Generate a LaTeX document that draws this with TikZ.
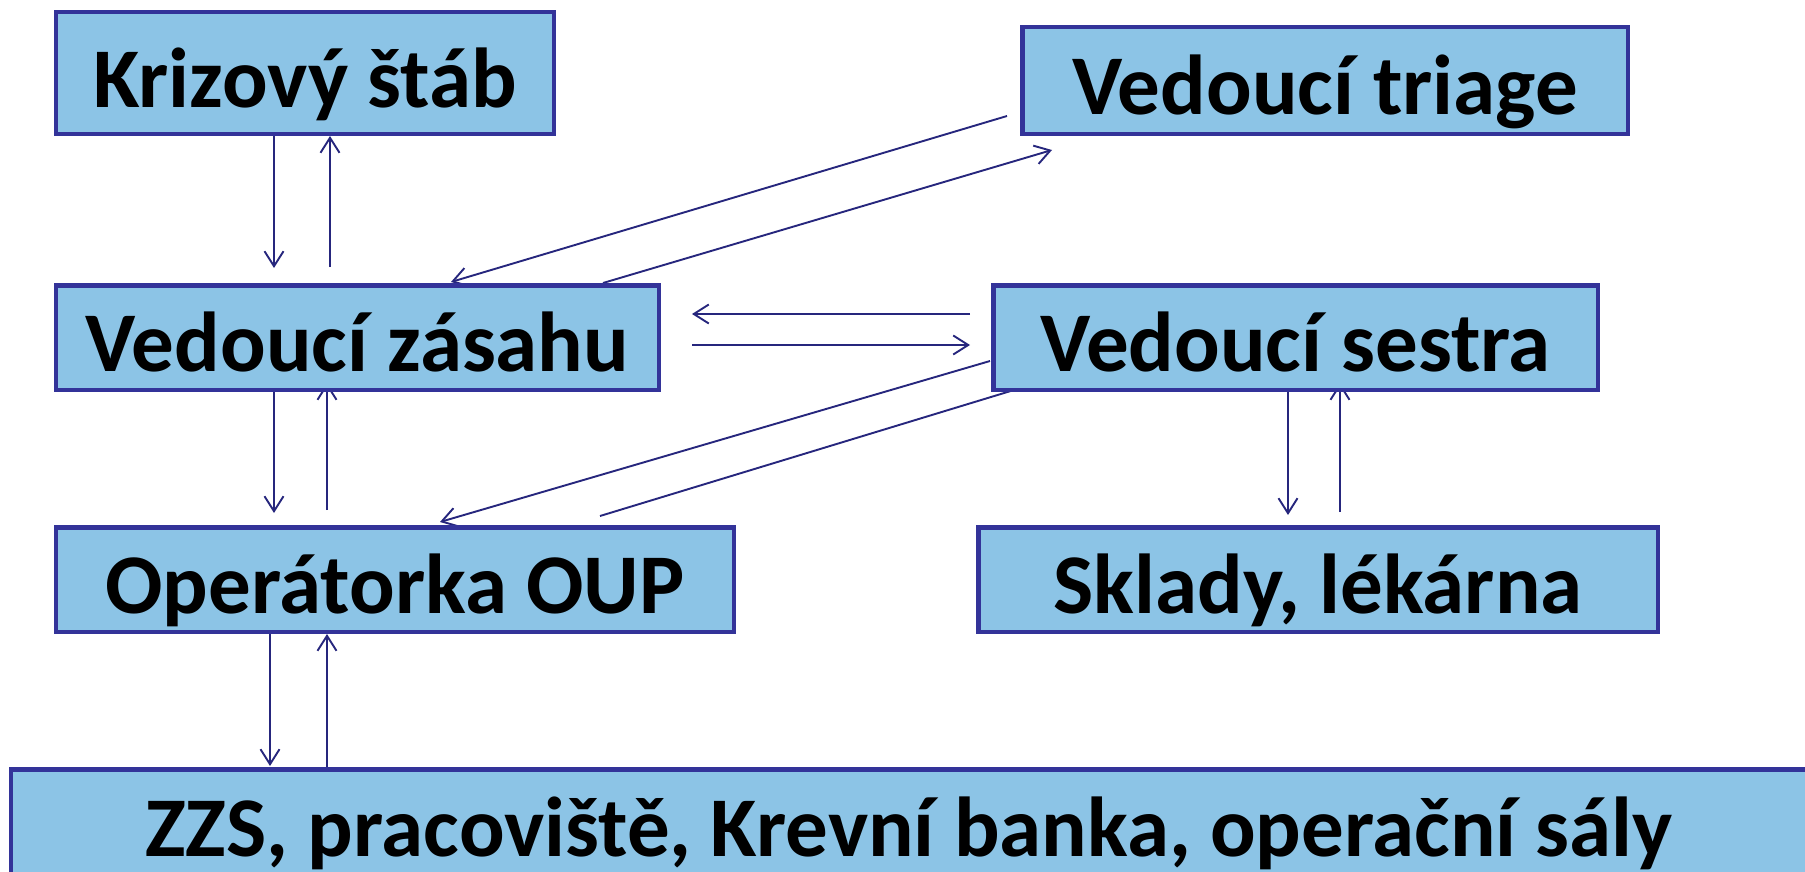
\documentclass[tikz,border=0pt]{standalone}
\usepackage{fontspec}
\setmainfont{Carlito}
\usetikzlibrary{arrows.meta}
\definecolor{boxfill}{RGB}{140,196,230}
\definecolor{boxline}{RGB}{51,51,153}
\definecolor{linkc}{RGB}{38,38,125}
\pgfdeclarelayer{links}
\pgfsetlayers{links,main}

\begin{document}
\begin{tikzpicture}[x=1bp,y=-1bp,
  box/.style={draw=boxline, line width=4.5bp, fill=boxfill, inner sep=0pt,
    text height=68bp, text depth=0pt,
    font=\fontsize{85bp}{100bp}\selectfont\bfseries},
  link/.style={draw=linkc, line width=1.9bp,
    -{Straight Barb[length=15bp,width=19bp,line width=1.9bp]}},
]
\useasboundingbox (0,0) rectangle (1805,872);
\clip (0,0) rectangle (1805,872);

% boxes
\node[box, minimum width=497.5bp, minimum height=121.5bp] (krize)  at (305,73)     {Krizový štáb};
\node[box, minimum width=605.5bp, minimum height=106.5bp] (triage) at (1325,80.5)  {Vedoucí triage};
\node[box, minimum width=602.5bp, minimum height=104.5bp] (zasah)  at (357.5,337.5) {Vedoucí zásahu};
\node[box, minimum width=604.5bp, minimum height=104.5bp] (sestra) at (1295.5,337.5) {Vedoucí sestra};
\node[box, minimum width=677.5bp, minimum height=104.5bp] (oup)    at (395,579.5)  {Operátorka OUP};
\node[box, minimum width=679.5bp, minimum height=104.5bp] (sklady) at (1318,579.5) {Sklady, lékárna};
\node[box, minimum width=1795.5bp, minimum height=105.5bp] (zzs)   at (909,822)    {ZZS, pracoviště, Krevní banka, operační sály};

% free ends of the connectors
\coordinate (kd) at (274,268);
\coordinate (ku) at (330,267);
\coordinate (zd) at (274,513);
\coordinate (zu) at (327,510);
\coordinate (od) at (270,766);
\coordinate (ou) at (327,766);
\coordinate (sd) at (1288,515);
\coordinate (su) at (1340,512);
\coordinate (hl1) at (970,314);
\coordinate (hl2) at (692,314);
\coordinate (hr1) at (692,345);
\coordinate (hr2) at (970,345);
\coordinate (tz1) at (1007,116);
\coordinate (tz2) at (451,282);
\coordinate (zt1) at (603,283);
\coordinate (zt2) at (1052,150);
\coordinate (so1) at (990,361);
\coordinate (so2) at (440,522);
\coordinate (os1) at (600,516);
\coordinate (os2) at (1060,376);

\begin{pgfonlayer}{links}
  % Krizový štáb <-> Vedoucí zásahu
  \draw[link] (krize.south -| kd) -- (kd);
  \draw[link] (ku) -- (ku |- krize.south);
  % Vedoucí zásahu <-> Operátorka OUP
  \draw[link] (zasah.south -| zd) -- (zd);
  \draw[link, shorten >=-9bp] (zu) -- (zu |- zasah.south);
  % Operátorka OUP <-> ZZS
  \draw[link] (oup.south -| od) -- (od);
  \draw[link] (ou |- zzs.north) -- (ou |- oup.south);
  % Vedoucí zásahu <-> Vedoucí sestra
  \draw[link] (hl1) -- (hl2);
  \draw[link] (hr1) -- (hr2);
  % Vedoucí sestra <-> Sklady, lékárna
  \draw[link] (sestra.south -| sd) -- (sd);
  \draw[link, shorten >=-9bp] (su) -- (su |- sestra.south);
  % Vedoucí triage <-> Vedoucí zásahu
  \draw[link] (tz1) -- (tz2);
  \draw[link] (zt1) -- (zt2);
  % Vedoucí sestra <-> Operátorka OUP
  \draw[link] (so1) -- (so2);
  \draw[link] (os1) -- (os2);
\end{pgfonlayer}
\end{tikzpicture}
\end{document}
